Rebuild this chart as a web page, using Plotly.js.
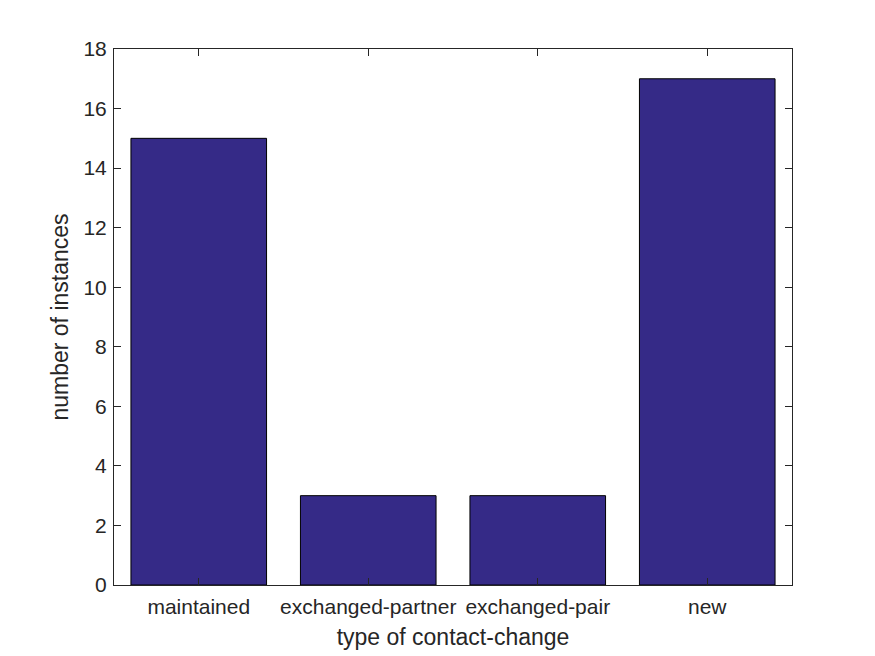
<!DOCTYPE html>
<html>
<head>
<meta charset="utf-8">
<script src="https://cdn.plot.ly/plotly-3.0.1.min.js"></script>
<style>html,body{margin:0;padding:0;background:#fff;}#chart{width:875px;height:656px;}</style>
</head>
<body>
<div id="chart"></div>
<script>
const categories = ["maintained", "exchanged-partner", "exchanged-pair", "new"];
const counts = [15, 3, 3, 17];
const yTicks = [0, 2, 4, 6, 8, 10, 12, 14, 16, 18];

const axisColor = "#262626";
const tickFont = {family: "Liberation Sans, Arial, sans-serif", size: 21, color: axisColor};
const titleFont = {family: "Liberation Sans, Arial, sans-serif", size: 23, color: axisColor};

const data = [{
  type: "bar",
  x: categories,
  y: counts,
  width: 0.8,
  marker: {color: "rgb(53,42,135)", line: {color: "#000", width: 1}},
  hoverinfo: "x+y"
}];

const layout = {
  width: 875, height: 656,
  paper_bgcolor: "#fff", plot_bgcolor: "#fff",
  margin: {l: 114, r: 83, t: 49, b: 71, pad: 0},
  font: tickFont,
  showlegend: false,
  xaxis: {
    type: "category",
    range: [-0.5, 3.5],
    showline: true, linecolor: axisColor, linewidth: 1, mirror: "ticks",
    ticks: "inside", ticklen: 7, tickcolor: axisColor, tickwidth: 1,
    ticklabelstandoff: 3,
    showgrid: false, zeroline: false,
    tickfont: tickFont,
    automargin: false,
    title: {text: "type of contact-change", font: titleFont, standoff: 11}
  },
  yaxis: {
    range: [0, 18],
    tickvals: yTicks,
    showline: true, linecolor: axisColor, linewidth: 1, mirror: "ticks",
    ticks: "inside", ticklen: 7, tickcolor: axisColor, tickwidth: 1,
    ticklabelstandoff: 2,
    showgrid: false, zeroline: false,
    tickfont: tickFont,
    automargin: false,
    title: {text: "number of instances", font: titleFont, standoff: 8}
  }
};

Plotly.newPlot("chart", data, layout, {staticPlot: true, displayModeBar: false});
</script>
</body>
</html>
